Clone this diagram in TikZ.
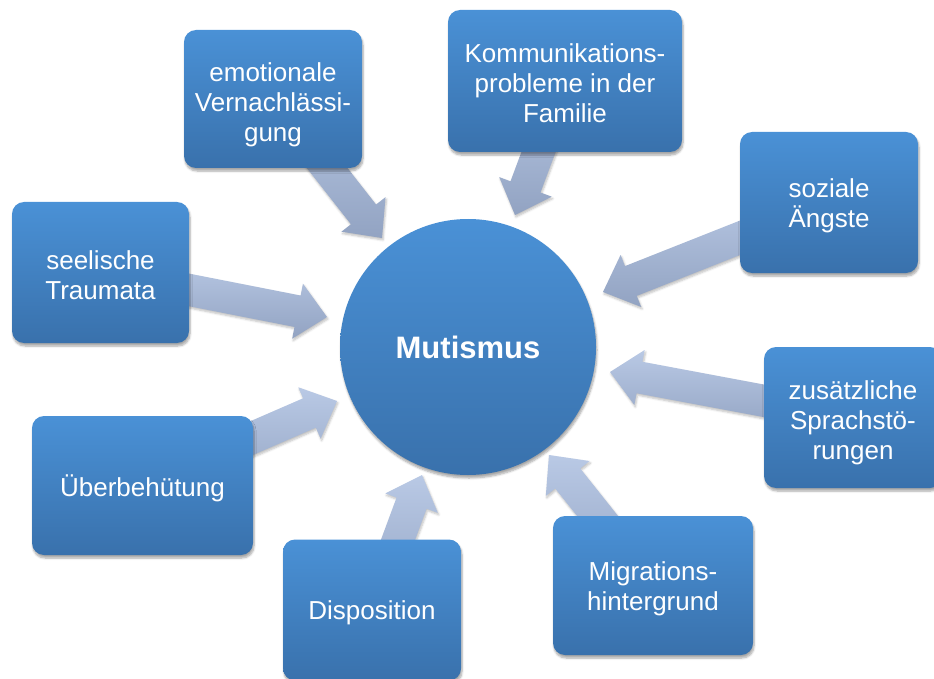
\documentclass[tikz,border=0pt]{standalone}
\usepackage{fontspec}
\setmainfont{Liberation Sans}
\usetikzlibrary{calc,shadows.blur}
\definecolor{boxtop}{RGB}{74,145,214}
\definecolor{boxbot}{RGB}{57,113,172}
\definecolor{arrtop}{RGB}{185,201,229}
\definecolor{arrbot}{RGB}{146,163,194}
\tikzset{
  cause/.style={rounded corners=12pt, top color=boxtop, bottom color=boxbot,
    draw=none, inner sep=0pt,
    blur shadow={shadow xshift=1pt, shadow yshift=-3pt, shadow blur steps=6, shadow opacity=35}},
  causetext/.style={text=white, font=\fontsize{26}{30}\selectfont, align=center, inner sep=0pt},
  core/.style={circle, minimum size=256pt, inner sep=0pt, top color=boxtop,
    bottom color=boxbot, draw=none, text=white,
    font=\fontsize{31}{36}\selectfont\bfseries,
    blur shadow={shadow xshift=1pt, shadow yshift=-3pt, shadow blur steps=6, shadow opacity=35}},
  barrow/.style={top color=arrtop, bottom color=arrbot, draw=none,
    blur shadow={shadow xshift=1pt, shadow yshift=-2pt, shadow blur steps=5, shadow opacity=25}}
}
\newcommand\blockarr[2]{%
  \coordinate (hb) at ($(#2)!30pt!(#1)$);
  \path[barrow] ($(#1)!16pt!90:(#2)$) -- ($(hb)!16pt!-90:(#1)$) -- ($(hb)!28pt!-90:(#1)$)
    -- (#2) -- ($(hb)!28pt!90:(#1)$) -- ($(hb)!16pt!90:(#1)$) -- ($(#1)!16pt!-90:(#2)$) -- cycle;}
\begin{document}
\begin{tikzpicture}[x=1pt,y=-1pt]
  \useasboundingbox (0,0) rectangle (934,679);
  \clip (0,0) rectangle (934,679);
  \path
    (273,99)    coordinate (cE)
    (565,81)    coordinate (cK)
    (829,202.5) coordinate (cS)
    (100.5,272.5) coordinate (cSe)
    (853,417.5) coordinate (cZ)
    (142.5,485.5) coordinate (cU)
    (372,610)   coordinate (cD)
    (653,585.5) coordinate (cM);
  \path
    (382,238) coordinate (tE)
    (515,215) coordinate (tK)
    (603,292) coordinate (tS)
    (327,317) coordinate (tSe)
    (610,372) coordinate (tZ)
    (337,401) coordinate (tU)
    (422,475) coordinate (tD)
    (549,455) coordinate (tM);
  \blockarr{cE}{tE}
  \blockarr{cK}{tK}
  \blockarr{cS}{tS}
  \blockarr{cSe}{tSe}
  \blockarr{cZ}{tZ}
  \blockarr{cU}{tU}
  \blockarr{cD}{tD}
  \blockarr{cM}{tM}
  \node[cause, minimum width=178pt, minimum height=138pt] (emo) at (cE) {};
  \node[causetext] (emoT) at ([yshift=-6pt]emo.center) {emotionale\\Vernachlässi-\\gung};
  \node[cause, minimum width=234pt, minimum height=142pt] (kom) at (cK) {};
  \node[causetext] (komT) at ([yshift=-2pt]kom.center) {Kommunikations-\\probleme in der\\Familie};
  \node[cause, minimum width=178pt, minimum height=141pt] (soz) at (cS) {};
  \node[causetext] (sozT) at ([yshift=-3.5pt]soz.center) {soziale\\Ängste};
  \node[cause, minimum width=177pt, minimum height=141pt] (see) at (cSe) {};
  \node[causetext] (seeT) at ([yshift=-3pt]see.center) {seelische\\Traumata};
  \node[cause, minimum width=178pt, minimum height=141pt] (zus) at (cZ) {};
  \node[causetext] (zusT) at ([yshift=-5pt]zus.center) {zusätzliche\\Sprachstö-\\rungen};
  \node[cause, minimum width=221pt, minimum height=139pt] (ueb) at (cU) {};
  \node[causetext] (uebT) at ([yshift=-3pt]ueb.center) {Überbehütung};
  \node[cause, minimum width=178pt, minimum height=141pt] (dis) at (cD) {};
  \node[causetext] (disT) at ([yshift=-3pt]dis.center) {Disposition};
  \node[cause, minimum width=200pt, minimum height=139pt] (mig) at (cM) {};
  \node[causetext] (migT) at ([yshift=-3pt]mig.center) {Migrations-\\hintergrund};
  \node[core] (mut) at (468,347) {Mutismus};
\end{tikzpicture}
\end{document}
